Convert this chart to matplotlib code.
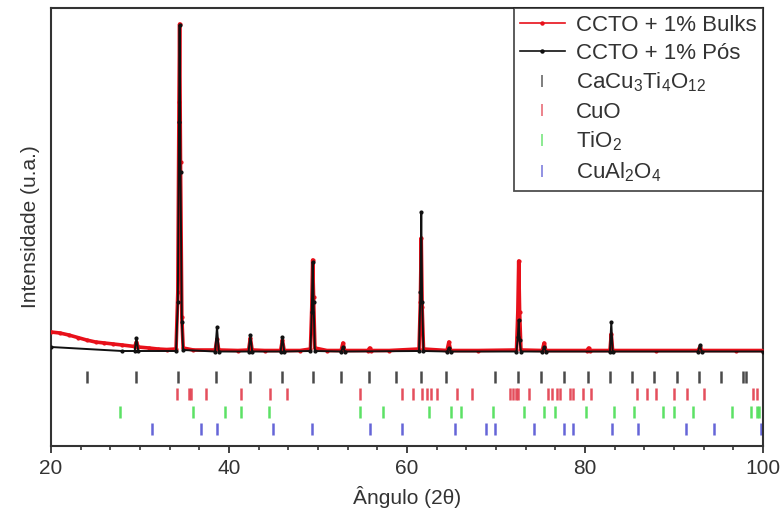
import matplotlib
matplotlib.use("Agg")
import matplotlib.pyplot as plt
from matplotlib.ticker import MultipleLocator, AutoMinorLocator
from matplotlib.lines import Line2D

plt.rcParams['font.family'] = ['Liberation Sans', 'DejaVu Sans']
plt.rcParams['mathtext.fontset'] = 'custom'
plt.rcParams['mathtext.rm'] = 'Liberation Sans'
plt.rcParams['mathtext.it'] = 'Liberation Sans:italic'
plt.rcParams['mathtext.default'] = 'regular'

# --- diffractograms (2θ in degrees, intensity in arbitrary units) ---
bulks_2theta = [20, 21, 22, 23, 24, 25, 26, 27, 28, 29.4, 29.6, 29.8, 31, 32, 33,
                34.05, 34.25, 34.38, 34.45, 34.55, 34.7, 34.85, 36, 38.45, 38.65,
                38.85, 41, 42.2, 42.4, 42.6, 44, 45.8, 46.0, 46.2, 48, 49.15, 49.3,
                49.4, 49.5, 49.65, 51, 52.6, 52.8, 53.0, 55.6, 55.8, 56.0, 58,
                61.35, 61.5, 61.6, 61.7, 61.85, 64.5, 64.7, 64.9, 68, 72.3, 72.45,
                72.55, 72.65, 72.8, 75.2, 75.4, 75.6, 80.2, 80.4, 80.6, 82.8,
                82.95, 83.1, 88, 92.7, 92.9, 93.1, 97, 100]
bulks_int = [20, 19, 17, 14.5, 12, 10, 9, 8, 7, 5.5, 10, 5, 4, 3, 2.5,
             3, 60, 250, 328, 190, 35, 4, 2, 2, 13,
             2, 1.5, 2, 14, 2, 1.5, 1.5, 12, 1.5, 1.5, 3, 45,
             92, 55, 4, 1.5, 1.5, 9, 1.5, 1.5, 4, 1.5, 1.5,
             3, 50, 114, 45, 3, 1.5, 10, 1.5, 1.5, 2, 40,
             91, 40, 2, 1.5, 9, 1.5, 1.5, 4, 1.5, 1.5,
             18, 1.5, 1.5, 1.5, 5, 1.5, 1.5, 1.5]

pos_2theta = [20, 28, 29.4, 29.6, 29.8, 34.05, 34.25, 34.38,
              34.45, 34.55, 34.7, 34.85, 38.45, 38.65, 38.85, 42.2, 42.4,
              42.6, 45.8, 46.0, 46.2, 49.15, 49.3, 49.4, 49.5, 49.65, 52.6, 52.8,
              53.0, 61.35, 61.5, 61.6, 61.7, 61.85, 64.5, 64.7, 64.9, 72.3, 72.45,
              72.55, 72.65, 72.8, 75.2, 75.4, 75.6, 82.8, 82.95, 83.1, 92.7, 92.9,
              93.1, 100]
pos_int = [5, 1, 1, 14, 1, 1, 50, 230,
           327, 180, 30, 2, 0.5, 25, 0.5, 0.5, 17,
           0.5, 0.5, 15, 0.5, 1, 40, 90, 50, 1, 0.5, 5,
           0.5, 1, 60, 140, 50, 1, 0.5, 4, 0.5, 0.5, 15,
           32, 12, 0.5, 0.5, 5, 0.5, 0.5, 30, 0.5, 0.5, 7,
           0.5, 0.5]

# --- reference reflections of each phase (2θ) ---
ccto_refs = [24.0, 29.6, 34.3, 38.5, 42.4, 45.9, 49.4, 52.6, 55.7, 58.8, 61.6,
             64.4, 69.9, 72.5, 75.1, 77.6, 80.3, 82.8, 85.3, 87.8, 90.3, 92.8,
             95.3, 97.7, 98.1]
cuo_refs = [34.2, 35.5, 35.7, 37.4, 41.4, 44.6, 46.5, 54.7, 59.4, 60.7, 61.7,
            62.3, 62.7, 63.4, 65.6, 67.3, 71.6, 71.9, 72.2, 72.5, 73.7, 75.8,
            76.3, 76.9, 77.2, 78.3, 78.6, 79.8, 80.7, 85.8, 87.0, 88.0, 90.0,
            91.5, 93.4, 98.9, 99.3]
tio2_refs = [27.7, 36.0, 39.6, 41.3, 44.5, 54.7, 57.3, 62.5, 64.9, 66.1, 69.7,
             73.1, 75.4, 76.6, 80.1, 83.3, 85.5, 88.8, 90.0, 92.1, 96.5, 98.7,
             99.3, 99.6]
cual2o4_refs = [31.3, 36.9, 38.6, 44.9, 49.3, 55.8, 59.4, 65.4, 68.9, 69.9, 74.3,
                77.6, 78.7, 83.0, 86.0, 91.3, 94.5, 99.8]

phase_labels = ['CaCu$_3$Ti$_4$O$_{12}$', 'CuO', 'TiO$_2$', 'CuAl$_2$O$_4$']
phase_refs = [ccto_refs, cuo_refs, tio2_refs, cual2o4_refs]
phase_colors = ['#2a2a2a', '#e03040', '#3fdc4a', '#4a4ad0']
row_levels = [-25, -42, -60, -77]

fig = plt.figure(figsize=(7.81, 5.20), dpi=100)
ax = fig.add_axes([0.0653, 0.1423, 0.9117, 0.8423])

ax.plot(bulks_2theta, bulks_int, color='#e8101a', lw=2.6, marker='o', ms=2.0,
        label='CCTO + 1% Bulks', zorder=3)
ax.plot(pos_2theta, pos_int, color='#111111', lw=1.4, marker='o', ms=2.0,
        label='CCTO + 1% Pós', zorder=4)

for refs, col, lvl in zip(phase_refs, phase_colors, row_levels):
    ax.vlines(refs, lvl - 6, lvl + 6, colors=col, lw=1.8, alpha=0.85, zorder=2)

handles, labels = ax.get_legend_handles_labels()
handles = [Line2D([], [], color='#e8101a', lw=1.2, marker='o', ms=2.2),
           Line2D([], [], color='#111111', lw=1.2, marker='o', ms=2.2)]
for lab, col in zip(phase_labels, phase_colors):
    handles.append(Line2D([], [], ls='none', marker='|', ms=8, mew=1.2,
                          color=col, alpha=0.7))
    labels.append(lab)

leg = ax.legend(handles, labels, loc='upper right', fontsize=16, frameon=True,
                fancybox=False, edgecolor='#222222', borderaxespad=0.0,
                handlelength=2.0, handletextpad=0.5, labelspacing=0.32,
                borderpad=0.3)
leg.get_frame().set_linewidth(1.3)
for t in leg.get_texts():
    t.set_color('#333333')

ax.set_xlim(20, 100)
ax.set_ylim(-94, 344)
ax.xaxis.set_major_locator(MultipleLocator(20))
ax.xaxis.set_minor_locator(AutoMinorLocator(6))
ax.set_yticks([])
ax.tick_params(axis='x', which='major', direction='out', length=5, width=1.3,
               labelsize=15, colors='#333333', pad=4)
ax.tick_params(axis='x', which='minor', direction='out', length=3, width=1.2,
               colors='#333333')

for sp in ax.spines.values():
    sp.set_linewidth(1.5)
    sp.set_color('#333333')

ax.set_xlabel('Ângulo (2θ)', fontsize=15, color='#333333', labelpad=6)
ax.set_ylabel('Intensidade (u.a.)', fontsize=15, color='#333333', labelpad=8)

fig.savefig('out.png', dpi=100)
